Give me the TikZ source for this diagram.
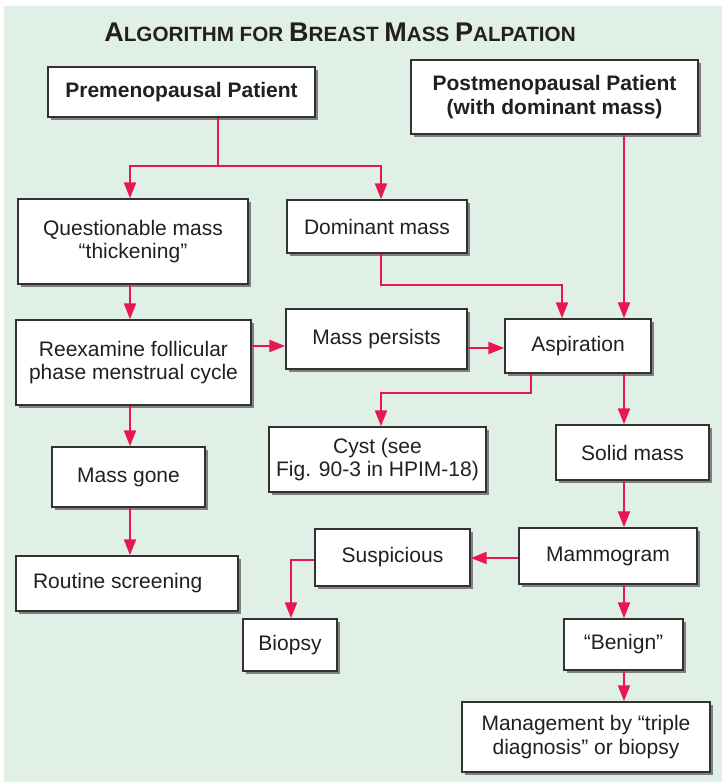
\documentclass[tikz,border=0pt]{standalone}
\usepackage{fontspec}
\setmainfont{Liberation Sans}
\usetikzlibrary{arrows.meta,shadows}
\definecolor{bgc}{RGB}{224,240,230}
\definecolor{arrc}{RGB}{232,23,79}
\definecolor{bordc}{RGB}{50,50,50}
\definecolor{txtc}{RGB}{35,31,32}
\definecolor{shc}{RGB}{128,128,128}
\newcommand\LgC[1]{{\fontsize{20.25}{22}\selectfont #1}}
\newcommand\SmC[1]{{\fontsize{15.5}{18}\selectfont #1}}
\begin{document}
\begin{tikzpicture}[x=0.75pt,y=-0.75pt,
  box/.style={draw=bordc, line width=1.1pt, fill=white, inner sep=0pt, align=center,
    text=txtc, font=\fontsize{15.75}{17.5}\selectfont,
    general shadow={fill=shc, shadow xshift=2.2pt, shadow yshift=-2.2pt}},
  bbox/.style={box, font=\fontsize{15.75}{17.5}\selectfont\bfseries},
  bx/.style args={#1/#2/#3/#4}{at={({(#1+#3)/2},{(#2+#4)/2})},
    minimum width={(#3-#1)*0.75pt}, minimum height={(#4-#2)*0.75pt}},
  ln/.style={draw=arrc, line width=1.7pt},
  arr/.style={ln, -{Triangle[length=12pt,width=9pt]}}]
\useasboundingbox (0,0) rectangle (722,782);
\fill[white] (0,0) rectangle (722,782);
\fill[bgc] (4,6) rectangle (722,782);

\node[anchor=base, text=txtc, font=\bfseries, inner sep=0pt] (title) at (340,41.7)
  {\LgC{A}\SmC{LGORITHM FOR }\LgC{B}\SmC{REAST }\LgC{M}\SmC{ASS }\LgC{P}\SmC{ALPATION}};

\node[bbox, bx=48/67/315/117] (pre) {Premenopausal Patient};
\node[bbox, bx=411/60/698/134] (post) {Postmenopausal Patient\\(with dominant mass)};
\node[box, bx=18/199/248/284] (q) {Questionable mass\\“thickening”};
\node[box, bx=287/200/467/253] (dm) {Dominant mass};
\node[box, bx=16/320/251/405] (re) {Reexamine follicular\\phase menstrual cycle};
\node[box, bx=286/309/467/369] (mp) {Mass persists};
\node[box, bx=505/319/651/373] (asp) {Aspiration};
\node[box, bx=269/427/486/492] (cyst) {Cyst (see\\Fig. 90-3 in HPIM-18)};
\node[box, bx=556/425/709/480] (solid) {Solid mass};
\node[box, bx=52/447/205/507] (mg) {Mass gone};
\node[box, bx=16/556/238/611] (rs) {Routine screening\hspace*{14pt}};
\node[box, bx=315/529/470/586] (sus) {Suspicious};
\node[box, bx=519/528/697/584] (mam) {Mammogram};
\node[box, bx=243/619/337/671] (bio) {Biopsy};
\node[box, bx=564/619/683/670] (ben) {“Benign”};
\node[box, bx=462/702/710/772] (mgmt) {Management by “triple\\diagnosis” or biopsy};

\coordinate (xA) at (130,0);
\coordinate (xB) at (381,0);
\coordinate (xC) at (562,0);
\coordinate (xD) at (624,0);
\coordinate (xE) at (218,0);
\coordinate (xF) at (531,0);
\coordinate (xG) at (291,0);
\coordinate (yA) at (0,166);
\coordinate (yB) at (0,285);
\coordinate (yC) at (0,393);
\coordinate (yD) at (0,346);
\coordinate (yE) at (0,348);
\coordinate (yF) at (0,558);
\coordinate (yG) at (0,560);

\draw[ln] (pre.south -| xE) -- (xE |- yA);
\draw[arr] (xE |- yA) -| (q.north -| xA);
\draw[arr] (xE |- yA) -| (dm.north -| xB);
\draw[arr] (q.south -| xA) -- (re.north -| xA);
\draw[arr] (re.east |- yD) -- (mp.west |- yD);
\draw[arr] (re.south -| xA) -- (mg.north -| xA);
\draw[arr] (mg.south -| xA) -- (rs.north -| xA);
\draw[arr] (dm.south -| xB) |- (xC |- yB) -- (asp.north -| xC);
\draw[arr] (post.south -| xD) -- (asp.north -| xD);
\draw[arr] (mp.east |- yE) -- (asp.west |- yE);
\draw[arr] (asp.south -| xF) |- (xB |- yC) -- (cyst.north -| xB);
\draw[arr] (asp.south -| xD) -- (solid.north -| xD);
\draw[arr] (solid.south -| xD) -- (mam.north -| xD);
\draw[arr] (mam.west |- yF) -- (sus.east |- yF);
\draw[arr] (sus.west |- yG) -| (bio.north -| xG);
\draw[arr] (mam.south -| xD) -- (ben.north -| xD);
\draw[arr] (ben.south -| xD) -- (mgmt.north -| xD);
\end{tikzpicture}
\end{document}
